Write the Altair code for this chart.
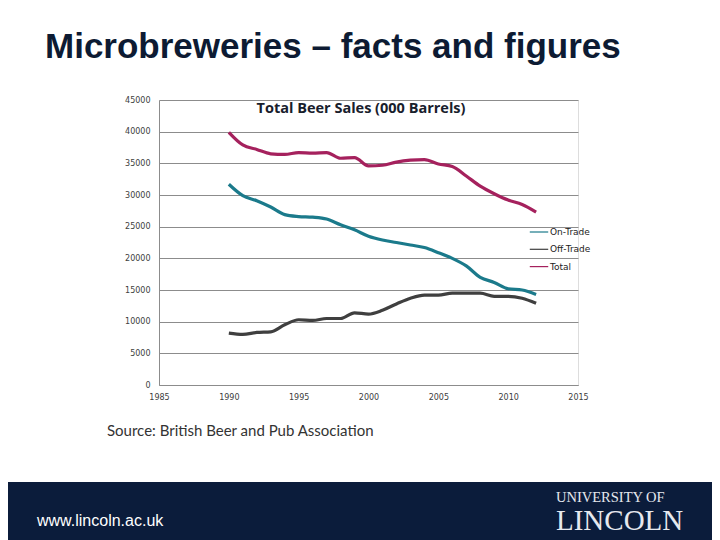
import altair as alt
import pandas as pd

# ---- data ----
years = list(range(1990, 2013))
on_trade = [31700, 29900, 29100, 28100, 26900, 26600, 26500, 26200, 25300, 24500,
            23500, 22900, 22500, 22100, 21700, 20900, 20000, 18800, 17000, 16200,
            15200, 15000, 14300]
off_trade = [8200, 8000, 8300, 8400, 9500, 10300, 10200, 10500, 10500, 11400,
             11200, 11800, 12800, 13700, 14200, 14200, 14500, 14500, 14500, 14000,
             14000, 13700, 12900]
total = [39900, 37900, 37200, 36500, 36400, 36700, 36600, 36700, 35800, 35900,
         34600, 34700, 35200, 35500, 35600, 34900, 34500, 33000, 31400, 30200,
         29200, 28500, 27300]

series_names = ["On-Trade", "Off-Trade", "Total"]
series_colors = ["#1b7a8b", "#3f3f3f", "#a5215d"]
x_ticks = [1985, 1990, 1995, 2000, 2005, 2010, 2015]
y_ticks = list(range(0, 45001, 5000))

slide_title = "Microbreweries \u2013 facts and figures"
chart_title = "Total Beer Sales (000 Barrels)"
source_text = "Source:  British Beer and Pub Association"
footer_url = "www.lincoln.ac.uk"
logo_top = "UNIVERSITY OF"
logo_main = "LINCOLN"

rows = []
for name, vals in zip(series_names, [on_trade, off_trade, total]):
    for yr, v in zip(years, vals):
        rows.append({"year": yr, "value": v, "series": name})
df = pd.DataFrame(rows)

W, H = 419, 285

lines = alt.Chart(df).mark_line(strokeWidth=3.2, interpolate="monotone").encode(
    x=alt.X("year:Q",
            scale=alt.Scale(domain=[1985, 2015], nice=False, zero=False),
            axis=alt.Axis(values=x_ticks, format="d", title=None, ticks=False,
                          grid=False, labelPadding=8, labelFlush=False,
                          domainColor="#8c8c8c", labelFont="DejaVu Sans",
                          labelFontSize=8, labelColor="#404040")),
    y=alt.Y("value:Q",
            scale=alt.Scale(domain=[0, 45000], nice=False),
            axis=alt.Axis(values=y_ticks, format="d", title=None, ticks=False,
                          grid=True, gridColor="#8c8c8c", gridWidth=1,
                          domainColor="#8c8c8c", labelPadding=9,
                          labelFont="DejaVu Sans", labelFontSize=8,
                          labelColor="#404040")),
    color=alt.Color("series:N",
                    scale=alt.Scale(domain=series_names, range=series_colors),
                    legend=alt.Legend(orient="none", legendX=370, legendY=122,
                                      title=None, symbolType="stroke",
                                      symbolSize=340, symbolStrokeWidth=1.2,
                                      labelFont="DejaVu Sans", labelFontSize=9,
                                      labelColor="#222222", rowPadding=2.3,
                                      padding=0, labelOffset=1)),
    detail="series:N",
)


def text_layer(txt, x, y, **kw):
    return alt.Chart(pd.DataFrame({"t": [txt]})).mark_text(**kw).encode(
        x=alt.value(x), y=alt.value(y), text="t:N")


footer = alt.Chart(pd.DataFrame({"a": [0]})).mark_rect(color="#0b1c3b").encode(
    x=alt.value(-170), x2=alt.value(570), y=alt.value(382), y2=alt.value(450))

t_title = text_layer(slide_title, -114, -42, font="Liberation Sans", fontSize=35,
                     fontWeight="bold", color="#0d1b33", align="left",
                     baseline="alphabetic")
t_chart = text_layer(chart_title, 202, 12.7, font="Open Sans", fontSize=14.5,
                     fontWeight="bold", color="#18202c", align="center",
                     baseline="alphabetic")
t_source = text_layer(source_text, -52, 336, font="Lato", fontSize=15,
                      color="#333333", align="left", baseline="alphabetic")
t_url = text_layer(footer_url, -122, 426, font="Liberation Sans", fontSize=16,
                   color="#ffffff", align="left", baseline="alphabetic")
t_logo1 = text_layer(logo_top, 397, 402, font="Liberation Serif", fontSize=14.5,
                     color="#e6e8ee", align="left", baseline="alphabetic")
t_logo2 = text_layer(logo_main, 397, 430, font="Liberation Serif", fontSize=29,
                     color="#e6e8ee", align="left", baseline="alphabetic")

chart = alt.layer(footer, lines, t_title, t_chart, t_source, t_url, t_logo1,
                  t_logo2).properties(
    width=W, height=H,
    autosize=alt.AutoSizeParams(type="none"),
    padding={"left": 151, "top": 92, "right": 134, "bottom": 155},
).configure_view(stroke=None).configure(background="#ffffff")

chart.save("out.html", embed_options={"renderer": "svg", "actions": False})
